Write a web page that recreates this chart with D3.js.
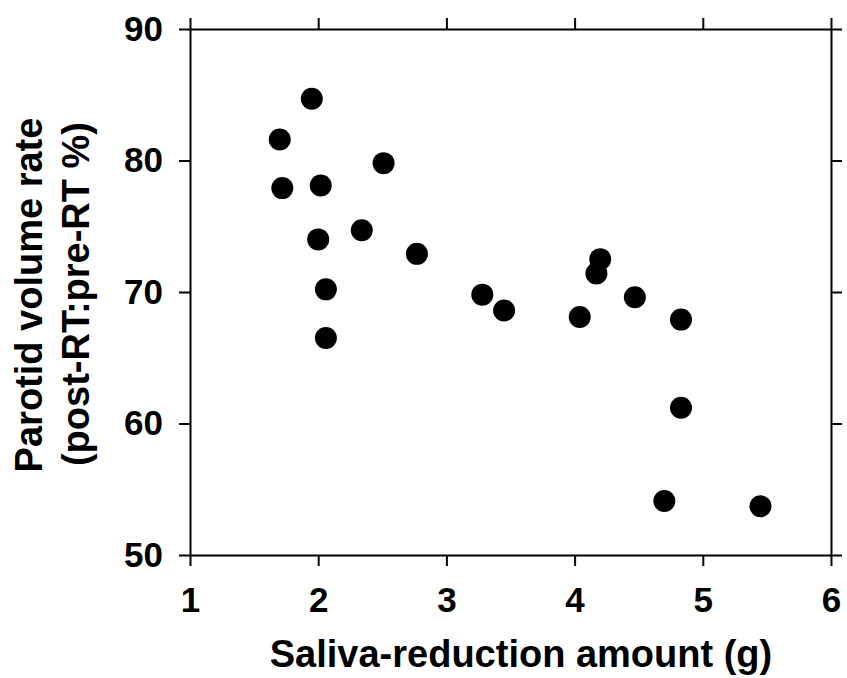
<!DOCTYPE html>
<html>
<head>
<meta charset="utf-8">
<script src="https://d3js.org/d3.v7.min.js"></script>
<style>
  body { margin: 0; background: #fff; }
  text { font-family: "Liberation Sans", Arial, sans-serif; font-weight: bold; }
</style>
</head>
<body>
<div class="chart"></div>
<script>
// saliva reduction (g) vs parotid volume rate (%)
var salivaReduction = [1.70, 1.72, 1.95, 2.02, 2.00, 2.06, 2.06, 2.34, 2.51, 2.77,
                       3.28, 3.45, 4.04, 4.17, 4.20, 4.47, 4.83, 4.83, 4.70, 5.45];
var volumeRate = [81.6, 77.9, 84.7, 78.1, 74.0, 70.2, 66.5, 74.7, 79.8, 72.9,
                  69.8, 68.6, 68.1, 71.4, 72.5, 69.6, 67.9, 61.2, 54.1, 53.7];
var xTicks = [1, 2, 3, 4, 5, 6];
var yTicks = [50, 60, 70, 80, 90];

var margin = {top: 29, right: 16, bottom: 123, left: 190},
    width = 847 - margin.left - margin.right,
    height = 678 - margin.top - margin.bottom;

var dataset = salivaReduction.map(function(d, i) {
    return {saliva: d, rate: volumeRate[i]};
});

var svg = d3.select(".chart")
  .append("svg")
    .attr("width", width + margin.left + margin.right)
    .attr("height", height + margin.top + margin.bottom)
  .append("g")
    .attr("transform", "translate(" + margin.left + "," + margin.top + ")");

var x = d3.scaleLinear()
    .domain([1, 6])
    .range([0, width]);

var y = d3.scaleLinear()
    .domain([50, 90])
    .range([height, 0]);

var xaxis = d3.axisBottom(x).tickValues(xTicks).tickFormat(d3.format("d"))
    .tickSize(11).tickSizeOuter(0).tickPadding(21);
var yaxis = d3.axisLeft(y).tickValues(yTicks).tickFormat(d3.format("d"))
    .tickSize(11).tickSizeOuter(0).tickPadding(16);
var topaxis = d3.axisTop(x).tickValues(xTicks).tickSize(11).tickSizeOuter(0).tickFormat("");
var rightaxis = d3.axisRight(y).tickValues(yTicks).tickSize(11).tickSizeOuter(0).tickFormat("");

function styleAxis(g) {
    g.selectAll("path, line")
        .attr("stroke", "#000")
        .attr("stroke-width", 2);
    g.selectAll("text")
        .attr("fill", "#000")
        .attr("font-size", "35px")
        .attr("font-family", "Liberation Sans, Arial, sans-serif")
        .attr("font-weight", "bold");
}

svg.append("g")
    .attr("class", "x axis")
    .attr("transform", "translate(0," + height + ")")
    .call(xaxis)
    .call(styleAxis);

svg.append("g")
    .attr("class", "y axis")
    .call(yaxis)
    .call(styleAxis);

svg.append("g")
    .attr("class", "top axis")
    .call(topaxis)
    .call(styleAxis);

svg.append("g")
    .attr("class", "right axis")
    .attr("transform", "translate(" + width + ",0)")
    .call(rightaxis)
    .call(styleAxis);

svg.append("g")
  .selectAll("circle")
  .data(dataset)
  .enter()
  .append("circle")
    .attr("cx", function(d) { return x(d.saliva); })
    .attr("cy", function(d) { return y(d.rate); })
    .attr("r", 11)
    .attr("fill", "#000");

// axis titles
svg.append("text")
    .attr("x", 331)
    .attr("y", 638)
    .attr("text-anchor", "middle")
    .attr("font-size", "38px")
    .attr("fill", "#000")
    .text("Saliva-reduction amount (g)");

svg.append("text")
    .attr("transform", "translate(-148,266) rotate(-90)")
    .attr("text-anchor", "middle")
    .attr("font-size", "38px")
    .attr("fill", "#000")
    .text("Parotid volume rate");

svg.append("text")
    .attr("transform", "translate(-101,265) rotate(-90)")
    .attr("text-anchor", "middle")
    .attr("font-size", "38px")
    .attr("fill", "#000")
    .text("(post-RT:pre-RT %)");
</script>
</body>
</html>
